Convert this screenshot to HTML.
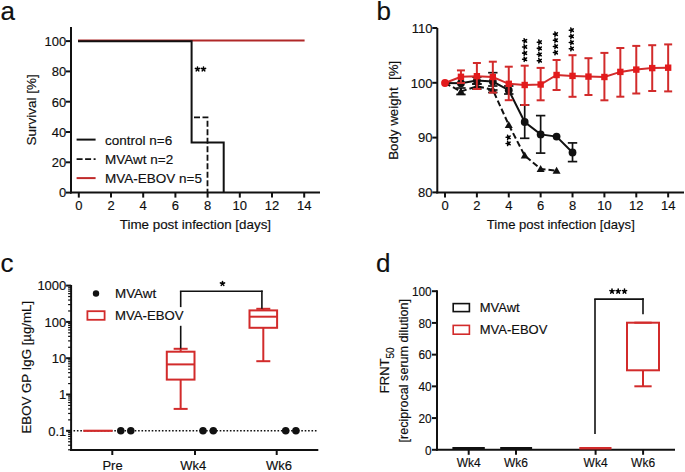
<!DOCTYPE html>
<html><head><meta charset="utf-8"><style>
html,body{margin:0;padding:0;background:#fff;}
svg{display:block;font-family:"Liberation Sans",sans-serif;}
text{stroke:#000;stroke-width:0.15px;}
</style></head><body>
<svg width="685" height="472" viewBox="0 0 685 472">
<rect width="685" height="472" fill="#fff"/>
<text x="0.50" y="19.50" font-size="26" text-anchor="start" fill="#111" >a</text>
<text x="376.50" y="19.50" font-size="26" text-anchor="start" fill="#111" >b</text>
<text x="0.50" y="272.30" font-size="26" text-anchor="start" fill="#111" >c</text>
<text x="376.00" y="272.30" font-size="26" text-anchor="start" fill="#111" >d</text>
<line x1="71.00" y1="27.00" x2="71.00" y2="193.60" stroke="#111" stroke-width="2" />
<line x1="70.00" y1="192.60" x2="320.00" y2="192.60" stroke="#111" stroke-width="2" />
<line x1="66.00" y1="192.60" x2="71.00" y2="192.60" stroke="#111" stroke-width="2" />
<text x="66.20" y="197.40" font-size="13" text-anchor="end" fill="#111" >0</text>
<line x1="66.00" y1="162.30" x2="71.00" y2="162.30" stroke="#111" stroke-width="2" />
<text x="66.20" y="167.10" font-size="13" text-anchor="end" fill="#111" >20</text>
<line x1="66.00" y1="132.00" x2="71.00" y2="132.00" stroke="#111" stroke-width="2" />
<text x="66.20" y="136.80" font-size="13" text-anchor="end" fill="#111" >40</text>
<line x1="66.00" y1="101.70" x2="71.00" y2="101.70" stroke="#111" stroke-width="2" />
<text x="66.20" y="106.50" font-size="13" text-anchor="end" fill="#111" >60</text>
<line x1="66.00" y1="71.40" x2="71.00" y2="71.40" stroke="#111" stroke-width="2" />
<text x="66.20" y="76.20" font-size="13" text-anchor="end" fill="#111" >80</text>
<line x1="66.00" y1="41.10" x2="71.00" y2="41.10" stroke="#111" stroke-width="2" />
<text x="66.20" y="45.90" font-size="13" text-anchor="end" fill="#111" >100</text>
<line x1="78.80" y1="192.60" x2="78.80" y2="197.60" stroke="#111" stroke-width="2" />
<text x="78.80" y="210.10" font-size="13" text-anchor="middle" fill="#111" >0</text>
<line x1="111.00" y1="192.60" x2="111.00" y2="197.60" stroke="#111" stroke-width="2" />
<text x="111.00" y="210.10" font-size="13" text-anchor="middle" fill="#111" >2</text>
<line x1="143.20" y1="192.60" x2="143.20" y2="197.60" stroke="#111" stroke-width="2" />
<text x="143.20" y="210.10" font-size="13" text-anchor="middle" fill="#111" >4</text>
<line x1="175.40" y1="192.60" x2="175.40" y2="197.60" stroke="#111" stroke-width="2" />
<text x="175.40" y="210.10" font-size="13" text-anchor="middle" fill="#111" >6</text>
<line x1="207.60" y1="192.60" x2="207.60" y2="197.60" stroke="#111" stroke-width="2" />
<text x="207.60" y="210.10" font-size="13" text-anchor="middle" fill="#111" >8</text>
<line x1="239.80" y1="192.60" x2="239.80" y2="197.60" stroke="#111" stroke-width="2" />
<text x="239.80" y="210.10" font-size="13" text-anchor="middle" fill="#111" >10</text>
<line x1="272.00" y1="192.60" x2="272.00" y2="197.60" stroke="#111" stroke-width="2" />
<text x="272.00" y="210.10" font-size="13" text-anchor="middle" fill="#111" >12</text>
<line x1="304.20" y1="192.60" x2="304.20" y2="197.60" stroke="#111" stroke-width="2" />
<text x="304.20" y="210.10" font-size="13" text-anchor="middle" fill="#111" >14</text>
<text x="195.40" y="228.90" font-size="13.4" text-anchor="middle" fill="#111" >Time post infection [days]</text>
<text transform="translate(35.60,109.80) rotate(-90)" font-size="13.5" text-anchor="middle" fill="#111">Survival [%]</text>
<line x1="78.00" y1="40.60" x2="304.60" y2="40.60" stroke="#b02828" stroke-width="2" />
<polyline points="78.00,41.30 191.60,41.30 191.60,142.50 223.70,142.50 223.70,192.60" fill="none" stroke="#111" stroke-width="2" />
<polyline points="194.00,117.30 207.50,117.30 207.50,192.60" fill="none" stroke="#111" stroke-width="1.8" stroke-dasharray="6 2.5"/>
<path d="M197.50,69.10L197.50,66.90M197.50,69.10L199.59,68.42M197.50,69.10L198.79,70.88M197.50,69.10L196.21,70.88M197.50,69.10L195.41,68.42" stroke="#000" stroke-width="1.55" stroke-linecap="round" fill="none"/>
<path d="M203.50,69.10L203.50,66.90M203.50,69.10L205.59,68.42M203.50,69.10L204.79,70.88M203.50,69.10L202.21,70.88M203.50,69.10L201.41,68.42" stroke="#000" stroke-width="1.55" stroke-linecap="round" fill="none"/>
<line x1="76.60" y1="139.60" x2="95.60" y2="139.60" stroke="#111" stroke-width="2" />
<line x1="76.60" y1="159.20" x2="95.60" y2="159.20" stroke="#111" stroke-width="1.8" stroke-dasharray="6 2.5"/>
<line x1="76.60" y1="178.10" x2="95.60" y2="178.10" stroke="#c02a2a" stroke-width="2" />
<text x="105.10" y="144.60" font-size="13.5" text-anchor="start" fill="#111" >control n=6</text>
<text x="105.10" y="164.00" font-size="13.5" text-anchor="start" fill="#111" >MVAwt n=2</text>
<text x="105.10" y="182.70" font-size="13.5" text-anchor="start" fill="#111" >MVA-EBOV n=5</text>
<line x1="437.30" y1="28.00" x2="437.30" y2="193.40" stroke="#111" stroke-width="2" />
<line x1="436.30" y1="192.40" x2="684.00" y2="192.40" stroke="#111" stroke-width="2" />
<line x1="432.30" y1="28.00" x2="437.30" y2="28.00" stroke="#111" stroke-width="2" />
<text x="432.50" y="32.80" font-size="13" text-anchor="end" fill="#111" >110</text>
<line x1="432.30" y1="82.80" x2="437.30" y2="82.80" stroke="#111" stroke-width="2" />
<text x="432.50" y="87.60" font-size="13" text-anchor="end" fill="#111" >100</text>
<line x1="432.30" y1="137.60" x2="437.30" y2="137.60" stroke="#111" stroke-width="2" />
<text x="432.50" y="142.40" font-size="13" text-anchor="end" fill="#111" >90</text>
<line x1="432.30" y1="192.40" x2="437.30" y2="192.40" stroke="#111" stroke-width="2" />
<text x="432.50" y="197.20" font-size="13" text-anchor="end" fill="#111" >80</text>
<line x1="445.00" y1="192.40" x2="445.00" y2="197.40" stroke="#111" stroke-width="2" />
<text x="445.00" y="210.10" font-size="13" text-anchor="middle" fill="#111" >0</text>
<line x1="476.88" y1="192.40" x2="476.88" y2="197.40" stroke="#111" stroke-width="2" />
<text x="476.88" y="210.10" font-size="13" text-anchor="middle" fill="#111" >2</text>
<line x1="508.76" y1="192.40" x2="508.76" y2="197.40" stroke="#111" stroke-width="2" />
<text x="508.76" y="210.10" font-size="13" text-anchor="middle" fill="#111" >4</text>
<line x1="540.64" y1="192.40" x2="540.64" y2="197.40" stroke="#111" stroke-width="2" />
<text x="540.64" y="210.10" font-size="13" text-anchor="middle" fill="#111" >6</text>
<line x1="572.52" y1="192.40" x2="572.52" y2="197.40" stroke="#111" stroke-width="2" />
<text x="572.52" y="210.10" font-size="13" text-anchor="middle" fill="#111" >8</text>
<line x1="604.40" y1="192.40" x2="604.40" y2="197.40" stroke="#111" stroke-width="2" />
<text x="604.40" y="210.10" font-size="13" text-anchor="middle" fill="#111" >10</text>
<line x1="636.28" y1="192.40" x2="636.28" y2="197.40" stroke="#111" stroke-width="2" />
<text x="636.28" y="210.10" font-size="13" text-anchor="middle" fill="#111" >12</text>
<line x1="668.16" y1="192.40" x2="668.16" y2="197.40" stroke="#111" stroke-width="2" />
<text x="668.16" y="210.10" font-size="13" text-anchor="middle" fill="#111" >14</text>
<text x="560.80" y="228.90" font-size="13.1" text-anchor="middle" fill="#111" >Time post infection [days]</text>
<text transform="translate(397.80,110.30) rotate(-90)" font-size="13.3" text-anchor="middle" fill="#111">Body weight&#160; [%]</text>
<line x1="492.82" y1="72.70" x2="492.82" y2="90.00" stroke="#111" stroke-width="1.7" />
<line x1="488.12" y1="72.70" x2="497.52" y2="72.70" stroke="#111" stroke-width="1.7" />
<line x1="488.12" y1="90.00" x2="497.52" y2="90.00" stroke="#111" stroke-width="1.7" />
<line x1="524.70" y1="105.00" x2="524.70" y2="138.30" stroke="#111" stroke-width="1.7" />
<line x1="520.00" y1="105.00" x2="529.40" y2="105.00" stroke="#111" stroke-width="1.7" />
<line x1="520.00" y1="138.30" x2="529.40" y2="138.30" stroke="#111" stroke-width="1.7" />
<line x1="540.64" y1="115.60" x2="540.64" y2="153.10" stroke="#111" stroke-width="1.7" />
<line x1="535.94" y1="115.60" x2="545.34" y2="115.60" stroke="#111" stroke-width="1.7" />
<line x1="535.94" y1="153.10" x2="545.34" y2="153.10" stroke="#111" stroke-width="1.7" />
<line x1="572.52" y1="142.90" x2="572.52" y2="161.60" stroke="#111" stroke-width="1.7" />
<line x1="567.82" y1="142.90" x2="577.22" y2="142.90" stroke="#111" stroke-width="1.7" />
<line x1="567.82" y1="161.60" x2="577.22" y2="161.60" stroke="#111" stroke-width="1.7" />
<line x1="476.88" y1="77.00" x2="476.88" y2="84.00" stroke="#111" stroke-width="1.7" />
<line x1="472.18" y1="77.00" x2="481.58" y2="77.00" stroke="#111" stroke-width="1.7" />
<line x1="472.18" y1="84.00" x2="481.58" y2="84.00" stroke="#111" stroke-width="1.7" />
<line x1="508.76" y1="86.00" x2="508.76" y2="94.00" stroke="#111" stroke-width="1.7" />
<line x1="504.06" y1="86.00" x2="513.46" y2="86.00" stroke="#111" stroke-width="1.7" />
<line x1="504.06" y1="94.00" x2="513.46" y2="94.00" stroke="#111" stroke-width="1.7" />
<line x1="460.94" y1="88.00" x2="460.94" y2="94.50" stroke="#111" stroke-width="1.7" />
<line x1="456.24" y1="88.00" x2="465.64" y2="88.00" stroke="#111" stroke-width="1.7" />
<line x1="456.24" y1="94.50" x2="465.64" y2="94.50" stroke="#111" stroke-width="1.7" />
<line x1="476.88" y1="84.00" x2="476.88" y2="89.00" stroke="#111" stroke-width="1.7" />
<line x1="472.18" y1="84.00" x2="481.58" y2="84.00" stroke="#111" stroke-width="1.7" />
<line x1="472.18" y1="89.00" x2="481.58" y2="89.00" stroke="#111" stroke-width="1.7" />
<line x1="492.82" y1="86.00" x2="492.82" y2="92.50" stroke="#111" stroke-width="1.7" />
<line x1="488.12" y1="86.00" x2="497.52" y2="86.00" stroke="#111" stroke-width="1.7" />
<line x1="488.12" y1="92.50" x2="497.52" y2="92.50" stroke="#111" stroke-width="1.7" />
<polyline points="445.00,83.00 460.94,91.50 476.88,86.30 492.82,89.80 508.76,124.90 524.70,155.60 540.64,169.00 556.58,170.70" fill="none" stroke="#111" stroke-width="2" stroke-dasharray="6 3"/>
<polygon points="460.94,87.50 464.94,94.50 456.94,94.50" fill="#111"/>
<polygon points="476.88,82.30 480.88,89.30 472.88,89.30" fill="#111"/>
<polygon points="492.82,85.80 496.82,92.80 488.82,92.80" fill="#111"/>
<polygon points="508.76,120.90 512.76,127.90 504.76,127.90" fill="#111"/>
<polygon points="524.70,151.60 528.70,158.60 520.70,158.60" fill="#111"/>
<polygon points="540.64,165.00 544.64,172.00 536.64,172.00" fill="#111"/>
<polygon points="556.58,166.70 560.58,173.70 552.58,173.70" fill="#111"/>
<polyline points="445.00,83.00 460.94,83.20 476.88,80.60 492.82,81.50 508.76,90.20 524.70,122.00 540.64,134.40 556.58,136.60 572.52,152.50" fill="none" stroke="#111" stroke-width="2" />
<circle cx="460.94" cy="83.20" r="3.9" fill="#111"/>
<circle cx="476.88" cy="80.60" r="3.9" fill="#111"/>
<circle cx="492.82" cy="81.50" r="3.9" fill="#111"/>
<circle cx="508.76" cy="90.20" r="3.9" fill="#111"/>
<circle cx="524.70" cy="122.00" r="3.9" fill="#111"/>
<circle cx="540.64" cy="134.40" r="3.9" fill="#111"/>
<circle cx="556.58" cy="136.60" r="3.9" fill="#111"/>
<circle cx="572.52" cy="152.50" r="3.9" fill="#111"/>
<line x1="460.94" y1="70.40" x2="460.94" y2="83.00" stroke="#d22b2b" stroke-width="2" />
<line x1="456.94" y1="70.40" x2="464.94" y2="70.40" stroke="#d22b2b" stroke-width="2" />
<line x1="456.94" y1="83.00" x2="464.94" y2="83.00" stroke="#d22b2b" stroke-width="2" />
<line x1="476.88" y1="63.00" x2="476.88" y2="89.00" stroke="#d22b2b" stroke-width="2" />
<line x1="472.88" y1="63.00" x2="480.88" y2="63.00" stroke="#d22b2b" stroke-width="2" />
<line x1="472.88" y1="89.00" x2="480.88" y2="89.00" stroke="#d22b2b" stroke-width="2" />
<line x1="492.82" y1="61.70" x2="492.82" y2="92.60" stroke="#d22b2b" stroke-width="2" />
<line x1="488.82" y1="61.70" x2="496.82" y2="61.70" stroke="#d22b2b" stroke-width="2" />
<line x1="488.82" y1="92.60" x2="496.82" y2="92.60" stroke="#d22b2b" stroke-width="2" />
<line x1="508.76" y1="66.70" x2="508.76" y2="100.20" stroke="#d22b2b" stroke-width="2" />
<line x1="504.76" y1="66.70" x2="512.76" y2="66.70" stroke="#d22b2b" stroke-width="2" />
<line x1="504.76" y1="100.20" x2="512.76" y2="100.20" stroke="#d22b2b" stroke-width="2" />
<line x1="524.70" y1="65.70" x2="524.70" y2="105.00" stroke="#d22b2b" stroke-width="2" />
<line x1="520.70" y1="65.70" x2="528.70" y2="65.70" stroke="#d22b2b" stroke-width="2" />
<line x1="520.70" y1="105.00" x2="528.70" y2="105.00" stroke="#d22b2b" stroke-width="2" />
<line x1="540.64" y1="67.90" x2="540.64" y2="100.30" stroke="#d22b2b" stroke-width="2" />
<line x1="536.64" y1="67.90" x2="544.64" y2="67.90" stroke="#d22b2b" stroke-width="2" />
<line x1="536.64" y1="100.30" x2="544.64" y2="100.30" stroke="#d22b2b" stroke-width="2" />
<line x1="556.58" y1="60.00" x2="556.58" y2="90.00" stroke="#d22b2b" stroke-width="2" />
<line x1="552.58" y1="60.00" x2="560.58" y2="60.00" stroke="#d22b2b" stroke-width="2" />
<line x1="552.58" y1="90.00" x2="560.58" y2="90.00" stroke="#d22b2b" stroke-width="2" />
<line x1="572.52" y1="55.20" x2="572.52" y2="96.80" stroke="#d22b2b" stroke-width="2" />
<line x1="568.52" y1="55.20" x2="576.52" y2="55.20" stroke="#d22b2b" stroke-width="2" />
<line x1="568.52" y1="96.80" x2="576.52" y2="96.80" stroke="#d22b2b" stroke-width="2" />
<line x1="588.46" y1="58.20" x2="588.46" y2="95.00" stroke="#d22b2b" stroke-width="2" />
<line x1="584.46" y1="58.20" x2="592.46" y2="58.20" stroke="#d22b2b" stroke-width="2" />
<line x1="584.46" y1="95.00" x2="592.46" y2="95.00" stroke="#d22b2b" stroke-width="2" />
<line x1="604.40" y1="52.90" x2="604.40" y2="100.30" stroke="#d22b2b" stroke-width="2" />
<line x1="600.40" y1="52.90" x2="608.40" y2="52.90" stroke="#d22b2b" stroke-width="2" />
<line x1="600.40" y1="100.30" x2="608.40" y2="100.30" stroke="#d22b2b" stroke-width="2" />
<line x1="620.34" y1="48.00" x2="620.34" y2="96.70" stroke="#d22b2b" stroke-width="2" />
<line x1="616.34" y1="48.00" x2="624.34" y2="48.00" stroke="#d22b2b" stroke-width="2" />
<line x1="616.34" y1="96.70" x2="624.34" y2="96.70" stroke="#d22b2b" stroke-width="2" />
<line x1="636.28" y1="45.90" x2="636.28" y2="93.50" stroke="#d22b2b" stroke-width="2" />
<line x1="632.28" y1="45.90" x2="640.28" y2="45.90" stroke="#d22b2b" stroke-width="2" />
<line x1="632.28" y1="93.50" x2="640.28" y2="93.50" stroke="#d22b2b" stroke-width="2" />
<line x1="652.22" y1="45.20" x2="652.22" y2="91.00" stroke="#d22b2b" stroke-width="2" />
<line x1="648.22" y1="45.20" x2="656.22" y2="45.20" stroke="#d22b2b" stroke-width="2" />
<line x1="648.22" y1="91.00" x2="656.22" y2="91.00" stroke="#d22b2b" stroke-width="2" />
<line x1="668.16" y1="44.40" x2="668.16" y2="91.40" stroke="#d22b2b" stroke-width="2" />
<line x1="664.16" y1="44.40" x2="672.16" y2="44.40" stroke="#d22b2b" stroke-width="2" />
<line x1="664.16" y1="91.40" x2="672.16" y2="91.40" stroke="#d22b2b" stroke-width="2" />
<polyline points="445.00,83.00 460.94,76.80 476.88,76.20 492.82,77.00 508.76,83.80 524.70,85.00 540.64,84.50 556.58,75.00 572.52,75.90 588.46,76.60 604.40,77.00 620.34,71.90 636.28,69.60 652.22,68.10 668.16,67.70" fill="none" stroke="#d22b2b" stroke-width="2" />
<rect x="457.74" y="73.60" width="6.4" height="6.4" fill="#e31a1c"/>
<rect x="473.68" y="73.00" width="6.4" height="6.4" fill="#e31a1c"/>
<rect x="489.62" y="73.80" width="6.4" height="6.4" fill="#e31a1c"/>
<rect x="505.56" y="80.60" width="6.4" height="6.4" fill="#e31a1c"/>
<rect x="521.50" y="81.80" width="6.4" height="6.4" fill="#e31a1c"/>
<rect x="537.44" y="81.30" width="6.4" height="6.4" fill="#e31a1c"/>
<rect x="553.38" y="71.80" width="6.4" height="6.4" fill="#e31a1c"/>
<rect x="569.32" y="72.70" width="6.4" height="6.4" fill="#e31a1c"/>
<rect x="585.26" y="73.40" width="6.4" height="6.4" fill="#e31a1c"/>
<rect x="601.20" y="73.80" width="6.4" height="6.4" fill="#e31a1c"/>
<rect x="617.14" y="68.70" width="6.4" height="6.4" fill="#e31a1c"/>
<rect x="633.08" y="66.40" width="6.4" height="6.4" fill="#e31a1c"/>
<rect x="649.02" y="64.90" width="6.4" height="6.4" fill="#e31a1c"/>
<rect x="664.96" y="64.50" width="6.4" height="6.4" fill="#e31a1c"/>
<circle cx="445.00" cy="83" r="3.9" fill="#e31a1c"/>
<path d="M524.80,40.80L522.60,40.80M524.80,40.80L524.12,38.71M524.80,40.80L526.58,39.51M524.80,40.80L526.58,42.09M524.80,40.80L524.12,42.89" stroke="#000" stroke-width="1.55" stroke-linecap="round" fill="none"/>
<path d="M524.80,46.95L522.60,46.95M524.80,46.95L524.12,44.86M524.80,46.95L526.58,45.66M524.80,46.95L526.58,48.24M524.80,46.95L524.12,49.04" stroke="#000" stroke-width="1.55" stroke-linecap="round" fill="none"/>
<path d="M524.80,53.10L522.60,53.10M524.80,53.10L524.12,51.01M524.80,53.10L526.58,51.81M524.80,53.10L526.58,54.39M524.80,53.10L524.12,55.19" stroke="#000" stroke-width="1.55" stroke-linecap="round" fill="none"/>
<path d="M524.80,59.25L522.60,59.25M524.80,59.25L524.12,57.16M524.80,59.25L526.58,57.96M524.80,59.25L526.58,60.54M524.80,59.25L524.12,61.34" stroke="#000" stroke-width="1.55" stroke-linecap="round" fill="none"/>
<path d="M539.50,42.20L537.30,42.20M539.50,42.20L538.82,40.11M539.50,42.20L541.28,40.91M539.50,42.20L541.28,43.49M539.50,42.20L538.82,44.29" stroke="#000" stroke-width="1.55" stroke-linecap="round" fill="none"/>
<path d="M539.50,48.35L537.30,48.35M539.50,48.35L538.82,46.26M539.50,48.35L541.28,47.06M539.50,48.35L541.28,49.64M539.50,48.35L538.82,50.44" stroke="#000" stroke-width="1.55" stroke-linecap="round" fill="none"/>
<path d="M539.50,54.50L537.30,54.50M539.50,54.50L538.82,52.41M539.50,54.50L541.28,53.21M539.50,54.50L541.28,55.79M539.50,54.50L538.82,56.59" stroke="#000" stroke-width="1.55" stroke-linecap="round" fill="none"/>
<path d="M539.50,60.65L537.30,60.65M539.50,60.65L538.82,58.56M539.50,60.65L541.28,59.36M539.50,60.65L541.28,61.94M539.50,60.65L538.82,62.74" stroke="#000" stroke-width="1.55" stroke-linecap="round" fill="none"/>
<path d="M555.60,34.10L553.40,34.10M555.60,34.10L554.92,32.01M555.60,34.10L557.38,32.81M555.60,34.10L557.38,35.39M555.60,34.10L554.92,36.19" stroke="#000" stroke-width="1.55" stroke-linecap="round" fill="none"/>
<path d="M555.60,40.25L553.40,40.25M555.60,40.25L554.92,38.16M555.60,40.25L557.38,38.96M555.60,40.25L557.38,41.54M555.60,40.25L554.92,42.34" stroke="#000" stroke-width="1.55" stroke-linecap="round" fill="none"/>
<path d="M555.60,46.40L553.40,46.40M555.60,46.40L554.92,44.31M555.60,46.40L557.38,45.11M555.60,46.40L557.38,47.69M555.60,46.40L554.92,48.49" stroke="#000" stroke-width="1.55" stroke-linecap="round" fill="none"/>
<path d="M555.60,52.55L553.40,52.55M555.60,52.55L554.92,50.46M555.60,52.55L557.38,51.26M555.60,52.55L557.38,53.84M555.60,52.55L554.92,54.64" stroke="#000" stroke-width="1.55" stroke-linecap="round" fill="none"/>
<path d="M571.50,30.20L569.30,30.20M571.50,30.20L570.82,28.11M571.50,30.20L573.28,28.91M571.50,30.20L573.28,31.49M571.50,30.20L570.82,32.29" stroke="#000" stroke-width="1.55" stroke-linecap="round" fill="none"/>
<path d="M571.50,36.35L569.30,36.35M571.50,36.35L570.82,34.26M571.50,36.35L573.28,35.06M571.50,36.35L573.28,37.64M571.50,36.35L570.82,38.44" stroke="#000" stroke-width="1.55" stroke-linecap="round" fill="none"/>
<path d="M571.50,42.50L569.30,42.50M571.50,42.50L570.82,40.41M571.50,42.50L573.28,41.21M571.50,42.50L573.28,43.79M571.50,42.50L570.82,44.59" stroke="#000" stroke-width="1.55" stroke-linecap="round" fill="none"/>
<path d="M571.50,48.65L569.30,48.65M571.50,48.65L570.82,46.56M571.50,48.65L573.28,47.36M571.50,48.65L573.28,49.94M571.50,48.65L570.82,50.74" stroke="#000" stroke-width="1.55" stroke-linecap="round" fill="none"/>
<path d="M508.30,137.30L506.10,137.30M508.30,137.30L507.62,135.21M508.30,137.30L510.08,136.01M508.30,137.30L510.08,138.59M508.30,137.30L507.62,139.39" stroke="#000" stroke-width="1.55" stroke-linecap="round" fill="none"/>
<path d="M508.30,143.40L506.10,143.40M508.30,143.40L507.62,141.31M508.30,143.40L510.08,142.11M508.30,143.40L510.08,144.69M508.30,143.40L507.62,145.49" stroke="#000" stroke-width="1.55" stroke-linecap="round" fill="none"/>
<line x1="71.10" y1="285.00" x2="71.10" y2="451.00" stroke="#111" stroke-width="2" />
<line x1="70.10" y1="450.00" x2="318.30" y2="450.00" stroke="#111" stroke-width="2" />
<line x1="68.10" y1="449.78" x2="71.10" y2="449.78" stroke="#111" stroke-width="1.2" />
<line x1="68.10" y1="445.25" x2="71.10" y2="445.25" stroke="#111" stroke-width="1.2" />
<line x1="68.10" y1="441.73" x2="71.10" y2="441.73" stroke="#111" stroke-width="1.2" />
<line x1="68.10" y1="438.85" x2="71.10" y2="438.85" stroke="#111" stroke-width="1.2" />
<line x1="68.10" y1="436.42" x2="71.10" y2="436.42" stroke="#111" stroke-width="1.2" />
<line x1="68.10" y1="434.32" x2="71.10" y2="434.32" stroke="#111" stroke-width="1.2" />
<line x1="68.10" y1="432.46" x2="71.10" y2="432.46" stroke="#111" stroke-width="1.2" />
<line x1="66.10" y1="430.80" x2="71.10" y2="430.80" stroke="#111" stroke-width="2" />
<line x1="68.10" y1="419.87" x2="71.10" y2="419.87" stroke="#111" stroke-width="1.2" />
<line x1="68.10" y1="413.48" x2="71.10" y2="413.48" stroke="#111" stroke-width="1.2" />
<line x1="68.10" y1="408.95" x2="71.10" y2="408.95" stroke="#111" stroke-width="1.2" />
<line x1="68.10" y1="405.43" x2="71.10" y2="405.43" stroke="#111" stroke-width="1.2" />
<line x1="68.10" y1="402.55" x2="71.10" y2="402.55" stroke="#111" stroke-width="1.2" />
<line x1="68.10" y1="400.12" x2="71.10" y2="400.12" stroke="#111" stroke-width="1.2" />
<line x1="68.10" y1="398.02" x2="71.10" y2="398.02" stroke="#111" stroke-width="1.2" />
<line x1="68.10" y1="396.16" x2="71.10" y2="396.16" stroke="#111" stroke-width="1.2" />
<line x1="66.10" y1="394.50" x2="71.10" y2="394.50" stroke="#111" stroke-width="2" />
<line x1="68.10" y1="383.57" x2="71.10" y2="383.57" stroke="#111" stroke-width="1.2" />
<line x1="68.10" y1="377.18" x2="71.10" y2="377.18" stroke="#111" stroke-width="1.2" />
<line x1="68.10" y1="372.65" x2="71.10" y2="372.65" stroke="#111" stroke-width="1.2" />
<line x1="68.10" y1="369.13" x2="71.10" y2="369.13" stroke="#111" stroke-width="1.2" />
<line x1="68.10" y1="366.25" x2="71.10" y2="366.25" stroke="#111" stroke-width="1.2" />
<line x1="68.10" y1="363.82" x2="71.10" y2="363.82" stroke="#111" stroke-width="1.2" />
<line x1="68.10" y1="361.72" x2="71.10" y2="361.72" stroke="#111" stroke-width="1.2" />
<line x1="68.10" y1="359.86" x2="71.10" y2="359.86" stroke="#111" stroke-width="1.2" />
<line x1="66.10" y1="358.20" x2="71.10" y2="358.20" stroke="#111" stroke-width="2" />
<line x1="68.10" y1="347.27" x2="71.10" y2="347.27" stroke="#111" stroke-width="1.2" />
<line x1="68.10" y1="340.88" x2="71.10" y2="340.88" stroke="#111" stroke-width="1.2" />
<line x1="68.10" y1="336.35" x2="71.10" y2="336.35" stroke="#111" stroke-width="1.2" />
<line x1="68.10" y1="332.83" x2="71.10" y2="332.83" stroke="#111" stroke-width="1.2" />
<line x1="68.10" y1="329.95" x2="71.10" y2="329.95" stroke="#111" stroke-width="1.2" />
<line x1="68.10" y1="327.52" x2="71.10" y2="327.52" stroke="#111" stroke-width="1.2" />
<line x1="68.10" y1="325.42" x2="71.10" y2="325.42" stroke="#111" stroke-width="1.2" />
<line x1="68.10" y1="323.56" x2="71.10" y2="323.56" stroke="#111" stroke-width="1.2" />
<line x1="66.10" y1="321.90" x2="71.10" y2="321.90" stroke="#111" stroke-width="2" />
<line x1="68.10" y1="310.97" x2="71.10" y2="310.97" stroke="#111" stroke-width="1.2" />
<line x1="68.10" y1="304.58" x2="71.10" y2="304.58" stroke="#111" stroke-width="1.2" />
<line x1="68.10" y1="300.05" x2="71.10" y2="300.05" stroke="#111" stroke-width="1.2" />
<line x1="68.10" y1="296.53" x2="71.10" y2="296.53" stroke="#111" stroke-width="1.2" />
<line x1="68.10" y1="293.65" x2="71.10" y2="293.65" stroke="#111" stroke-width="1.2" />
<line x1="68.10" y1="291.22" x2="71.10" y2="291.22" stroke="#111" stroke-width="1.2" />
<line x1="68.10" y1="289.12" x2="71.10" y2="289.12" stroke="#111" stroke-width="1.2" />
<line x1="68.10" y1="287.26" x2="71.10" y2="287.26" stroke="#111" stroke-width="1.2" />
<line x1="66.10" y1="285.60" x2="71.10" y2="285.60" stroke="#111" stroke-width="2" />
<text x="66.30" y="290.40" font-size="13" text-anchor="end" fill="#111" >1000</text>
<text x="66.30" y="326.70" font-size="13" text-anchor="end" fill="#111" >100</text>
<text x="66.30" y="363.00" font-size="13" text-anchor="end" fill="#111" >10</text>
<text x="66.30" y="399.30" font-size="13" text-anchor="end" fill="#111" >1</text>
<text x="66.30" y="435.60" font-size="13" text-anchor="end" fill="#111" >0.1</text>
<line x1="112.30" y1="450.00" x2="112.30" y2="455.00" stroke="#111" stroke-width="2" />
<text x="112.50" y="470.00" font-size="13" text-anchor="middle" fill="#111" >Pre</text>
<line x1="195.00" y1="450.00" x2="195.00" y2="455.00" stroke="#111" stroke-width="2" />
<text x="193.20" y="470.00" font-size="13" text-anchor="middle" fill="#111" >Wk4</text>
<line x1="276.70" y1="450.00" x2="276.70" y2="455.00" stroke="#111" stroke-width="2" />
<text x="279.00" y="470.00" font-size="13" text-anchor="middle" fill="#111" >Wk6</text>
<text transform="translate(31.30,367.20) rotate(-90)" font-size="13.25" text-anchor="middle" fill="#111">EBOV GP IgG [µg/mL]</text>
<line x1="73.50" y1="430.80" x2="317.00" y2="430.80" stroke="#111" stroke-width="1.6" stroke-dasharray="1.6 1.8"/>
<line x1="83.30" y1="430.80" x2="112.60" y2="430.80" stroke="#d22b2b" stroke-width="2.2" />
<circle cx="120.8" cy="430.8" r="3.75" fill="#111"/>
<circle cx="130.8" cy="430.8" r="3.75" fill="#111"/>
<circle cx="203" cy="430.8" r="3.75" fill="#111"/>
<circle cx="213.3" cy="430.8" r="3.75" fill="#111"/>
<circle cx="285.7" cy="430.8" r="3.75" fill="#111"/>
<circle cx="295.9" cy="430.8" r="3.75" fill="#111"/>
<rect x="166.80" y="351.70" width="27.70" height="27.90" fill="none" stroke="#d22b2b" stroke-width="2"/>
<line x1="166.80" y1="364.40" x2="194.50" y2="364.40" stroke="#d22b2b" stroke-width="2" />
<line x1="180.65" y1="348.80" x2="180.65" y2="351.70" stroke="#d22b2b" stroke-width="2" />
<line x1="180.65" y1="379.60" x2="180.65" y2="408.90" stroke="#d22b2b" stroke-width="2" />
<line x1="173.65" y1="348.80" x2="187.65" y2="348.80" stroke="#d22b2b" stroke-width="2" />
<line x1="173.65" y1="408.90" x2="187.65" y2="408.90" stroke="#d22b2b" stroke-width="2" />
<rect x="249.50" y="310.40" width="27.60" height="17.40" fill="none" stroke="#d22b2b" stroke-width="2"/>
<line x1="249.50" y1="316.70" x2="277.10" y2="316.70" stroke="#d22b2b" stroke-width="2" />
<line x1="263.30" y1="308.80" x2="263.30" y2="310.40" stroke="#d22b2b" stroke-width="2" />
<line x1="263.30" y1="327.80" x2="263.30" y2="361.20" stroke="#d22b2b" stroke-width="2" />
<line x1="256.30" y1="308.80" x2="270.30" y2="308.80" stroke="#d22b2b" stroke-width="2" />
<line x1="256.30" y1="361.20" x2="270.30" y2="361.20" stroke="#d22b2b" stroke-width="2" />
<line x1="180.70" y1="291.30" x2="180.70" y2="307.10" stroke="#111" stroke-width="1.6" />
<line x1="180.70" y1="325.80" x2="180.70" y2="348.60" stroke="#111" stroke-width="1.6" />
<line x1="179.90" y1="291.30" x2="262.70" y2="291.30" stroke="#111" stroke-width="1.6" />
<line x1="261.90" y1="290.50" x2="261.90" y2="308.80" stroke="#111" stroke-width="1.6" />
<path d="M222.50,283.60L222.50,281.40M222.50,283.60L224.59,282.92M222.50,283.60L223.79,285.38M222.50,283.60L221.21,285.38M222.50,283.60L220.41,282.92" stroke="#000" stroke-width="1.55" stroke-linecap="round" fill="none"/>
<circle cx="96" cy="293.5" r="3.2" fill="#111"/>
<rect x="87.4" y="311.2" width="17.2" height="8.6" fill="none" stroke="#d22b2b" stroke-width="1.8"/>
<text x="115.00" y="298.00" font-size="13.4" text-anchor="start" fill="#111" >MVAwt</text>
<text x="115.00" y="320.00" font-size="13.2" text-anchor="start" fill="#111" >MVA-EBOV</text>
<line x1="437.00" y1="290.20" x2="437.00" y2="450.80" stroke="#111" stroke-width="2" />
<line x1="436.00" y1="449.80" x2="675.00" y2="449.80" stroke="#111" stroke-width="2" />
<line x1="432.00" y1="449.80" x2="437.00" y2="449.80" stroke="#111" stroke-width="2" />
<text x="431.70" y="454.60" font-size="13" text-anchor="end" fill="#111" textLength="6.6" lengthAdjust="spacingAndGlyphs">0</text>
<line x1="432.00" y1="418.08" x2="437.00" y2="418.08" stroke="#111" stroke-width="2" />
<text x="431.70" y="422.88" font-size="13" text-anchor="end" fill="#111" textLength="13.2" lengthAdjust="spacingAndGlyphs">20</text>
<line x1="432.00" y1="386.36" x2="437.00" y2="386.36" stroke="#111" stroke-width="2" />
<text x="431.70" y="391.16" font-size="13" text-anchor="end" fill="#111" textLength="13.2" lengthAdjust="spacingAndGlyphs">40</text>
<line x1="432.00" y1="354.64" x2="437.00" y2="354.64" stroke="#111" stroke-width="2" />
<text x="431.70" y="359.44" font-size="13" text-anchor="end" fill="#111" textLength="13.2" lengthAdjust="spacingAndGlyphs">60</text>
<line x1="432.00" y1="322.92" x2="437.00" y2="322.92" stroke="#111" stroke-width="2" />
<text x="431.70" y="327.72" font-size="13" text-anchor="end" fill="#111" textLength="13.2" lengthAdjust="spacingAndGlyphs">80</text>
<line x1="432.00" y1="291.20" x2="437.00" y2="291.20" stroke="#111" stroke-width="2" />
<text x="431.70" y="296.00" font-size="13" text-anchor="end" fill="#111" textLength="19.8" lengthAdjust="spacingAndGlyphs">100</text>
<line x1="468.70" y1="449.80" x2="468.70" y2="454.80" stroke="#111" stroke-width="2" />
<text x="468.70" y="466.50" font-size="13" text-anchor="middle" fill="#111" textLength="24" lengthAdjust="spacingAndGlyphs">Wk4</text>
<line x1="516.00" y1="449.80" x2="516.00" y2="454.80" stroke="#111" stroke-width="2" />
<text x="516.00" y="466.50" font-size="13" text-anchor="middle" fill="#111" textLength="24" lengthAdjust="spacingAndGlyphs">Wk6</text>
<line x1="595.60" y1="449.80" x2="595.60" y2="454.80" stroke="#111" stroke-width="2" />
<text x="595.60" y="466.50" font-size="13" text-anchor="middle" fill="#111" textLength="24" lengthAdjust="spacingAndGlyphs">Wk4</text>
<line x1="643.10" y1="449.80" x2="643.10" y2="454.80" stroke="#111" stroke-width="2" />
<text x="643.10" y="466.50" font-size="13" text-anchor="middle" fill="#111" textLength="24" lengthAdjust="spacingAndGlyphs">Wk6</text>
<rect x="452.4" y="447" width="32.4" height="2.5" fill="#111"/>
<rect x="500.2" y="447" width="31.9" height="2.5" fill="#111"/>
<rect x="579.3" y="447" width="32.2" height="2.5" fill="#d22b2b"/>
<rect x="627.00" y="322.70" width="32.00" height="47.60" fill="none" stroke="#d22b2b" stroke-width="2"/>
<line x1="643.00" y1="322.70" x2="643.00" y2="322.70" stroke="#d22b2b" stroke-width="2" />
<line x1="643.00" y1="370.30" x2="643.00" y2="386.30" stroke="#d22b2b" stroke-width="2" />
<line x1="634.35" y1="322.70" x2="651.65" y2="322.70" stroke="#d22b2b" stroke-width="2" />
<line x1="634.35" y1="386.30" x2="651.65" y2="386.30" stroke="#d22b2b" stroke-width="2" />
<line x1="595.00" y1="433.90" x2="595.00" y2="299.10" stroke="#111" stroke-width="1.6" />
<line x1="594.20" y1="299.10" x2="643.80" y2="299.10" stroke="#111" stroke-width="1.6" />
<line x1="643.00" y1="298.30" x2="643.00" y2="314.30" stroke="#111" stroke-width="1.6" />
<path d="M612.00,291.30L612.00,289.10M612.00,291.30L614.09,290.62M612.00,291.30L613.29,293.08M612.00,291.30L610.71,293.08M612.00,291.30L609.91,290.62" stroke="#000" stroke-width="1.55" stroke-linecap="round" fill="none"/>
<path d="M618.20,291.30L618.20,289.10M618.20,291.30L620.29,290.62M618.20,291.30L619.49,293.08M618.20,291.30L616.91,293.08M618.20,291.30L616.11,290.62" stroke="#000" stroke-width="1.55" stroke-linecap="round" fill="none"/>
<path d="M624.50,291.30L624.50,289.10M624.50,291.30L626.59,290.62M624.50,291.30L625.79,293.08M624.50,291.30L623.21,293.08M624.50,291.30L622.41,290.62" stroke="#000" stroke-width="1.55" stroke-linecap="round" fill="none"/>
<rect x="453.2" y="303.6" width="16.2" height="8.0" fill="none" stroke="#111" stroke-width="1.6"/>
<rect x="453.2" y="325.4" width="16.2" height="8.8" fill="none" stroke="#d22b2b" stroke-width="1.6"/>
<text x="479.70" y="312.00" font-size="13" text-anchor="start" fill="#111" >MVAwt</text>
<text x="479.70" y="334.00" font-size="13" text-anchor="start" fill="#111" >MVA-EBOV</text>
<text transform="translate(388.8,370.3) rotate(-90)" font-size="13" text-anchor="middle" fill="#111">FRNT<tspan font-size="10" dy="5.2">50</tspan></text>
<text transform="translate(407.60,370.75) rotate(-90)" font-size="12.6" text-anchor="middle" fill="#111">[reciprocal serum dilution]</text>
</svg>
</body></html>
